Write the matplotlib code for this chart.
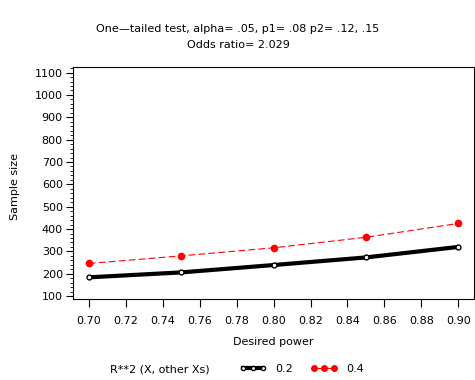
import matplotlib
matplotlib.use("Agg")
import matplotlib.pyplot as plt
from matplotlib.ticker import MultipleLocator
from matplotlib.lines import Line2D

plt.rcParams['font.family'] = ['DejaVu Sans']

power = [0.70, 0.75, 0.80, 0.85, 0.90]
n_r2_02 = [184, 206, 239, 273, 320]
n_r2_04 = [246, 280, 316, 363, 425]
series_labels = ["0.2", "0.4"]
title_lines = ["One\u2014tailed test, alpha= .05, p1= .08 p2= .12, .15", "Odds ratio= 2.029"]

W, H = 475, 380
FS = 8
fig = plt.figure(figsize=(W/100, H/100), dpi=100)
ax = fig.add_axes([72.5/W, 1 - 299/H, (474 - 72.5)/W, (299 - 67)/H])

ax.plot(power, n_r2_02, color='black', lw=3.0, marker='o', ms=3.5, mfc='white',
        mec='black', mew=1.0, solid_capstyle='butt')
ax.plot(power, n_r2_04, color='red', lw=0.8, ls=(0, (6, 3)), marker='o', ms=4.5,
        mfc='red', mec='red')

ax.set_xlim(0.6911, 0.9085)
ax.set_ylim(87, 1125)
ax.yaxis.set_major_locator(MultipleLocator(100))
ax.yaxis.set_minor_locator(MultipleLocator(20))
ax.set_xticks([0.70 + 0.02*i for i in range(11)])
ax.set_xticklabels([f"{0.70 + 0.02*i:.2f}" for i in range(11)])
ax.tick_params(axis='both', which='major', labelsize=FS, width=0.8, length=5, direction='out', pad=2)
ax.tick_params(axis='x', which='major', length=6, pad=6)
ax.tick_params(axis='y', which='minor', width=0.6, length=2.5, direction='out')
for s in ax.spines.values():
    s.set_linewidth(0.8)

ax.set_xlabel("Desired power", fontsize=FS, labelpad=8)
fig.text(15/W, 1 - 187/H, "Sample size", rotation=90, ha='center', va='center', fontsize=FS)

fig.text(238/W, 1 - 29/H, title_lines[0], ha='center', va='center', fontsize=FS)
fig.text(238/W, 1 - 45/H, title_lines[1], ha='center', va='center', fontsize=FS)

fig.text(110/W, 1 - 369/H, "R**2 (X, other Xs)", ha='left', va='center', fontsize=FS)
h1 = Line2D([], [], color='black', lw=3.0, marker='o', ms=3, mfc='white', mec='black')
h2 = Line2D([], [], color='red', lw=0.8, marker='o', ms=4, mfc='red', mec='red')
fig.legend([h1, h2], series_labels, ncol=2, frameon=False, fontsize=FS,
           loc='center left', bbox_to_anchor=(230/W, 1 - 369/H),
           handlelength=2.4, handletextpad=0.8, columnspacing=1.6, numpoints=3,
           markerscale=1.0)

fig.savefig("out.png", dpi=100)
